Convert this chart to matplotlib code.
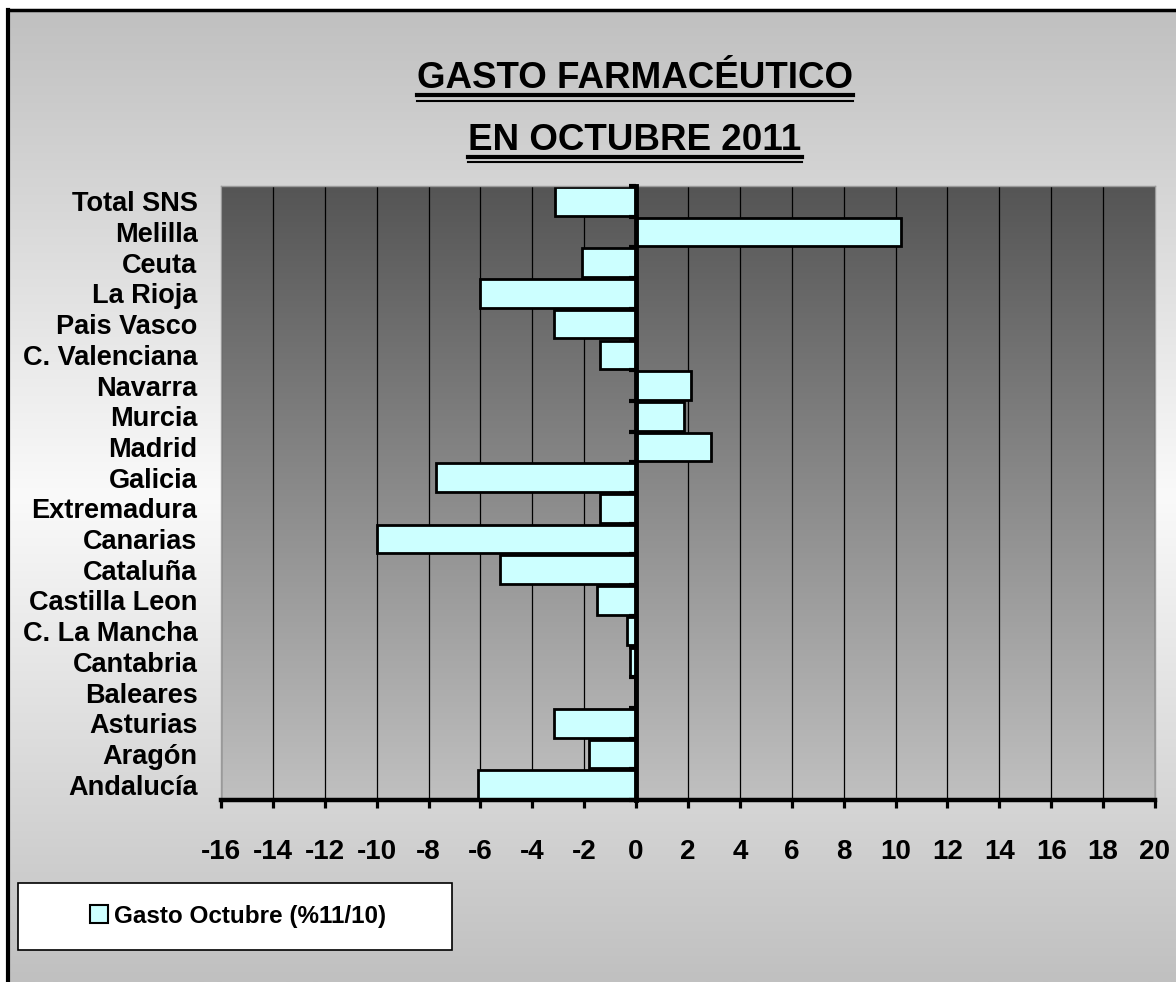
import numpy as np
import matplotlib
matplotlib.use("Agg")
import matplotlib.pyplot as plt
from matplotlib.lines import Line2D
from matplotlib.patches import Rectangle

# datos (de abajo hacia arriba, como en el grafico original)
regiones = ["Andalucía", "Aragón", "Asturias", "Baleares", "Cantabria",
            "C. La Mancha", "Castilla Leon", "Cataluña", "Canarias",
            "Extremadura", "Galicia", "Madrid", "Murcia", "Navarra",
            "C. Valenciana", "Pais Vasco", "La Rioja", "Ceuta", "Melilla",
            "Total SNS"]
gasto = [-6.1, -1.83, -3.15, -0.05, -0.23, -0.37, -1.52, -5.26, -9.98, -1.4,
         -7.71, 2.87, 1.85, 2.1, -1.4, -3.15, -6.03, -2.1, 10.2, -3.11]
xticks = list(range(-16, 21, 2))
titulo = ["GASTO FARMACÉUTICO", "EN OCTUBRE 2011"]
leyenda = "Gasto Octubre (%11/10)"

plt.rcParams['axes.unicode_minus'] = False
plt.rcParams['font.family'] = ['Liberation Sans', 'DejaVu Sans']

W, H = 1176, 982
fig = plt.figure(figsize=(W / 100, H / 100), dpi=100)
fig.patch.set_facecolor('white')

# fondo degradado gris-blanco-gris
bg = fig.add_axes([8 / W, 0, 1 - 8 / W, 1 - 10 / H])
t = np.linspace(0, 1, 400)
v = (250 - 58 * np.abs(t - 0.5) / 0.5) / 255
bg.imshow(np.dstack([v, v, v]).reshape(400, 1, 3), aspect='auto',
          extent=(0, 1, 0, 1), origin='upper')
bg.set_axis_off()

# marco
fig.add_artist(Line2D([8 / W, 8 / W], [0, 1 - 10 / H], color='black', lw=3,
                      transform=fig.transFigure))
fig.add_artist(Line2D([8 / W, 1], [1 - 10 / H, 1 - 10 / H], color='black',
                      lw=2.5, transform=fig.transFigure))

ax = fig.add_axes([221 / W, 1 - 800 / H, (1155 - 221) / W, (800 - 186) / H])
n = len(regiones)
y = np.arange(n)
ax.set_xlim(-16, 20)
ax.set_ylim(-0.5, n - 0.5)

# area del grafico con degradado oscuro arriba
g = np.linspace(85, 192, 256) / 255
ax.imshow(np.dstack([g, g, g]).reshape(256, 1, 3), aspect='auto',
          extent=(-16, 20, -0.5, n - 0.5), origin='upper', zorder=0)

ax.barh(y, gasto, height=0.93, color='#CCFFFF', edgecolor='black',
        linewidth=2, zorder=2, label=leyenda)

ax.set_xticks(xticks)
ax.set_xticklabels([str(x) for x in xticks], fontsize=20, fontweight='bold')
ax.grid(axis='x', color='black', lw=0.9)
ax.set_axisbelow(True)
ax.tick_params(axis='x', direction='out', length=6, width=2.3, pad=22)

ax.set_yticks(y)
ax.set_yticklabels(regiones, fontsize=19.5, fontweight='bold')
ax.tick_params(axis='y', length=0, pad=17)

for s in ['left', 'top', 'right']:
    ax.spines[s].set_color('#9a9a9a')
    ax.spines[s].set_linewidth(1)
ax.spines['bottom'].set_linewidth(3.2)

# eje vertical en el cero con marcas entre categorias
sec = ax.secondary_yaxis(0, transform=ax.transData)
sec.set_yticks(np.arange(-0.5, n, 1))
sec.tick_params(length=5, width=3, direction='out', labelleft=False,
                labelright=False)
sec.spines['left'].set_linewidth(3.5)
sec.set_zorder(5)

# titulo subrayado
t1 = fig.text(635 / W, 1 - 88 / H, titulo[0], ha='center', va='baseline',
              fontsize=26.5, fontweight='bold')
t2 = fig.text(635 / W, 1 - 150 / H, titulo[1], ha='center', va='baseline',
              fontsize=26.5, fontweight='bold')

# leyenda
fig.add_artist(Rectangle((18 / W, 1 - 950 / H), (452 - 18) / W, 67 / H,
                         transform=fig.transFigure, facecolor='white',
                         edgecolor='black', lw=1.2))
h, l = ax.get_legend_handles_labels()
leg = fig.legend(h, l, loc='center', bbox_to_anchor=(238 / W, 1 - 916 / H),
                 frameon=False, prop={'size': 17.5, 'weight': 'bold'},
                 handlelength=0.75, handleheight=0.75, handletextpad=0.25)
leg.legend_handles[0].set_linewidth(1.5)

fig.canvas.draw()
r = fig.canvas.get_renderer()
inv = fig.transFigure.inverted()
for txt, yb in [(t1, 88), (t2, 150)]:
    bb = txt.get_window_extent(r)
    x0, _ = inv.transform((bb.x0, 0))
    x1, _ = inv.transform((bb.x1, 0))
    fig.add_artist(Line2D([x0, x1], [1 - (yb + 7) / H] * 2, color='black',
                          lw=3, transform=fig.transFigure))
    fig.add_artist(Line2D([x0, x1], [1 - (yb + 12.5) / H] * 2,
                          color='black', lw=1.5, transform=fig.transFigure))

fig.savefig('out.png', dpi=100)
